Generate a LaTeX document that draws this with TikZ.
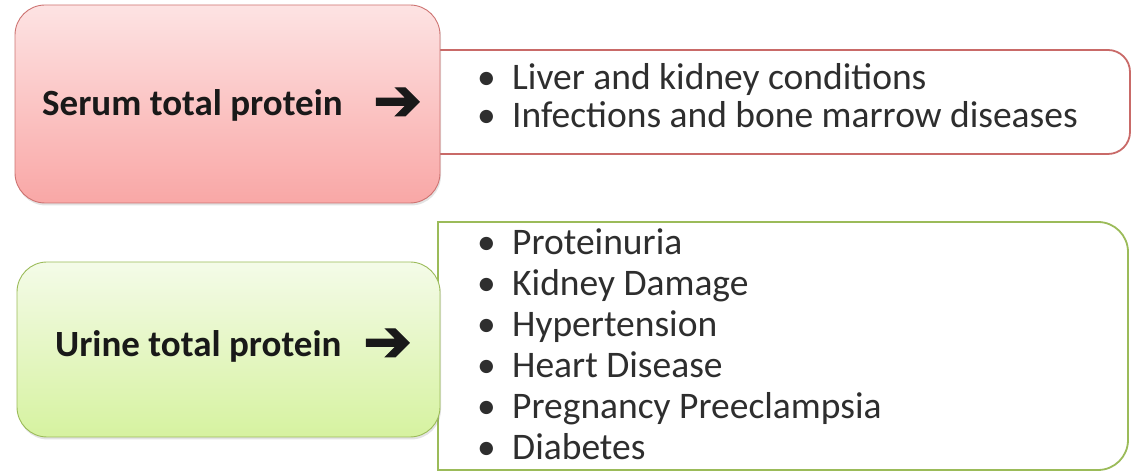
\documentclass[tikz,border=0pt]{standalone}
\usepackage{fontspec}
\setmainfont{Carlito}
\newfontfamily\arrowfont[FakeBold=2.5]{DejaVu Sans}
\usetikzlibrary{shadows}
\definecolor{redline}{HTML}{C0504D}
\definecolor{redtop}{HTML}{FDE3E3}
\definecolor{redbot}{HTML}{F9A7A6}
\definecolor{greenline}{HTML}{9BBB59}
\definecolor{greentop}{HTML}{F4FBE8}
\definecolor{greenbot}{HTML}{D6F2A0}
\tikzset{
  labelbox/.style={rounded corners=30pt, line width=0.9pt,
     drop shadow={opacity=0.22, shadow xshift=1pt, shadow yshift=-2.5pt}},
  listbox/.style={line width=1.8pt, fill=white},
  labeltext/.style={anchor=base west, inner sep=0pt, font=\fontsize{37}{42}\selectfont\bfseries, text=black!90},
  arrowtext/.style={anchor=west, inner sep=0pt, font=\arrowfont\fontsize{58}{62}\selectfont, text=black!90},
  bullettext/.style={anchor=base west, inner sep=0pt, font=\fontsize{37.5}{42}\selectfont, text=black!82},
}
\begin{document}
\begin{tikzpicture}[x=1pt,y=1pt]
\useasboundingbox (0,0) rectangle (1143,473);
% red list box (behind)
\draw[listbox, draw=redline!85] (430,423) -- (1108,423) arc[start angle=90,end angle=0,radius=22] -- (1130,341) arc[start angle=0,end angle=-90,radius=22] -- (430,319) -- cycle;
% red label box
\path[labelbox, draw=redline!80, top color=redtop, bottom color=redbot] (15,270) rectangle (440,468);
\node[labeltext] (serum) at (42,357) {Serum total protein};
\node[arrowtext] (serumarrow) at (373,369) {➔};
% green list box
\draw[listbox, draw=greenline] (438,251) -- (1098,251) arc[start angle=90,end angle=0,radius=30] -- (1128,33) arc[start angle=0,end angle=-90,radius=30] -- (438,3) -- cycle;
% green label box
\path[labelbox, draw=greenline, top color=greentop, bottom color=greenbot] (17,36) rectangle (440,211);
\node[labeltext] (urine) at (55,116) {Urine total protein};
\node[arrowtext] (urinearrow) at (363,128) {➔};
% serum list
\foreach \t [count=\i] in {Liver and kidney conditions, Infections and bone marrow diseases}{
  \node[bullettext] (sb\i) at (477,{383-(\i-1)*38}) {•};
  \node[bullettext] (s\i) at (512,{383-(\i-1)*38}) {\t};
}
% urine list
\foreach \t [count=\i] in {Proteinuria, Kidney Damage, Hypertension, Heart Disease, Pregnancy Preeclampsia, Diabetes}{
  \node[bullettext] (ub\i) at (477,{218-(\i-1)*41}) {•};
  \node[bullettext] (u\i) at (512,{218-(\i-1)*41}) {\t};
}
\end{tikzpicture}
\end{document}
